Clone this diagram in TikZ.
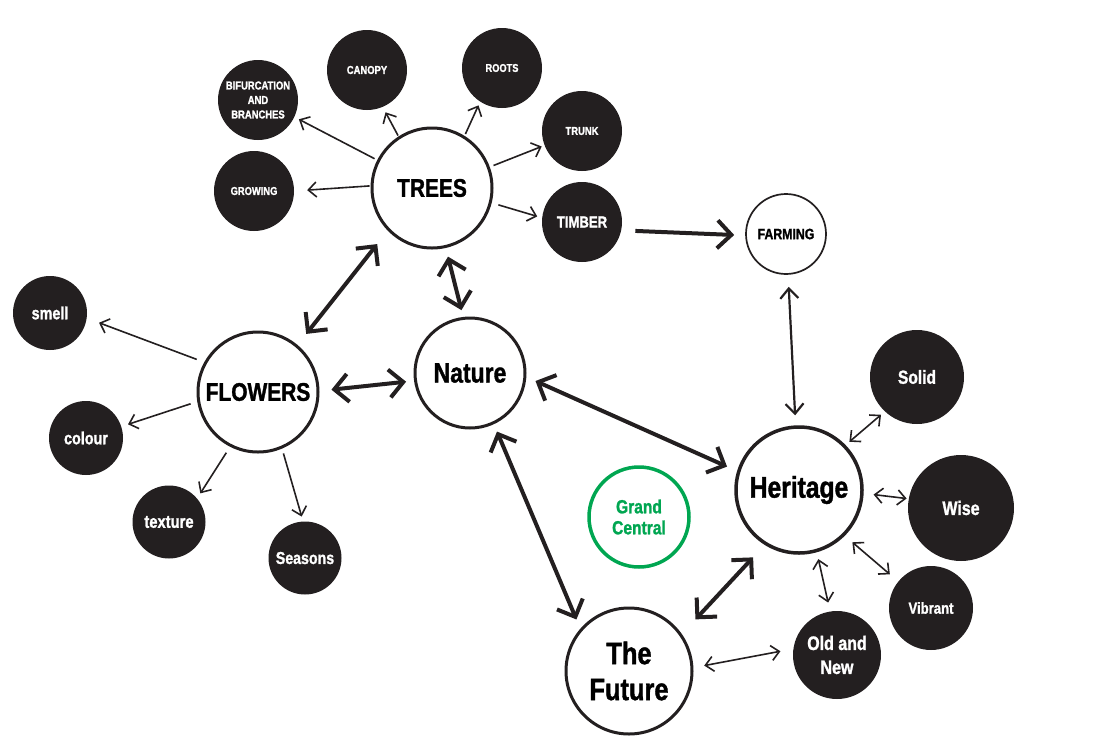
\documentclass[tikz,border=0pt]{standalone}
\usepackage{fontspec}
\setmainfont{Liberation Sans}[FakeStretch=0.82, BoldFeatures={FakeBold=1.3}]
\usetikzlibrary{arrows.meta}
\definecolor{inkcolor}{HTML}{231F20}
\definecolor{centralgreen}{HTML}{00A651}
\newcommand\bubblefont[2]{\fontsize{#1}{#2}\selectfont\bfseries}
\tikzset{
	hub/.style = {circle, draw=inkcolor, line width=3pt, fill=white, text=black, inner sep=0pt, align=center},
	leaf/.style = {circle, fill=inkcolor, text=white, inner sep=0pt, align=center},
	twig/.style = {draw=inkcolor, line width=1.6pt, -{Straight Barb[length=8pt, width=15pt]}},
	twigs/.style = {draw=inkcolor, line width=1.6pt, {Straight Barb[length=8pt, width=15pt]}-{Straight Barb[length=8pt, width=15pt]}},
	bough/.style = {draw=inkcolor, line width=4pt, {Straight Barb[length=14pt, width=28pt]}-{Straight Barb[length=14pt, width=28pt]}}
}

\begin{document}
\begin{tikzpicture}[x=1pt, y=-1pt]
	\useasboundingbox (0,0) rectangle (1096,748);
	% white hubs
	\node[hub, minimum size=120pt, font=\bubblefont{25.5}{28}] (trees) at (432,188) {TREES};
	\node[hub, minimum size=120pt, font=\bubblefont{25.5}{28}] (flowers) at (258,392) {FLOWERS};
	\node[hub, minimum size=110pt, font=\bubblefont{28}{30}] (nature) at (470,373) {Nature};
	\node[hub, minimum size=126pt, line width=3.5pt, font=\bubblefont{30}{32}] (heritage) at (799,490) {Heritage};
	\node[hub, minimum size=126pt, font=\bubblefont{31}{36}] (future) at (629,671) {The\\Future};
	\node[hub, minimum size=80pt, line width=1.7pt, font=\bubblefont{15}{17}] (farming) at (786,234) {FARMING};
	\node[hub, draw=centralgreen, text=centralgreen, minimum size=100pt, line width=3.5pt, font=\bubblefont{19}{21}] (central) at (639,517) {Grand\\Central};
	% dark leaves
	\foreach \nm/\x/\y/\d/\fs/\fl/\txt in {
		bifurcation/258/100/80/11.5/14.5/{BIFURCATION\\AND\\BRANCHES},
		canopy/367/70/80/11.5/13/CANOPY,
		roots/502/68/80/11.3/13/ROOTS,
		trunk/582/131/80/11.5/13/TRUNK,
		growing/254/191/80/11.4/13/GROWING,
		timber/582/222/80/16/18/TIMBER,
		smell/50/313/74/17.5/20/smell,
		colour/86/438/74/17.5/20/colour,
		texture/169/522/73/18/20/texture,
		seasons/305/558/73/17.3/20/Seasons,
		solid/917/377/94/19/21/Solid,
		wise/961/508/106/19.5/22/Wise,
		vibrant/931/608/84/16/18/Vibrant,
		oldnew/837/655/88/19.5/24/{Old and\\New}}
		\node[leaf, minimum size=\d pt, font=\bubblefont{\fs}{\fl}] (\nm) at (\x,\y) {\txt};
	% trees and flowers
	\foreach \leafnm/\a/\b/\s/\e in {bifurcation/153/-25/3/5, canopy/123/-67/1/6, roots/58/237/2/4,
		trunk/20/201/4/3, growing/178/0/1/13, timber/-14/174/7/5}
		\draw[twig, shorten <=\s pt, shorten >=\e pt] (trees.\a) -- (\leafnm.\b);
	\foreach \leafnm/\a/\b/\s/\e in {smell/151/-8/8/13, colour/189/18/7/7, texture/243/40/7/6, seasons/-67/93/5/5}
		\draw[twig, shorten <=\s pt, shorten >=\e pt] (flowers.\a) -- (\leafnm.\b);
	% heritage
	\foreach \leafnm/\a/\b/\s/\e in {solid/44/227/5/5, wise/-3/170/10/2, vibrant/-45/141/10/11, oldnew/-74/99/7/9}
		\draw[twigs, shorten <=\s pt, shorten >=\e pt] (heritage.\a) -- (\leafnm.\b);
	\draw[twigs, shorten <=11pt, shorten >=13pt] (future.3) -- (oldnew.172);
	% main links
	\draw[bough, shorten <=14pt, shorten >=17pt] (flowers.50) -- (trees.224.5);
	\draw[bough, shorten <=9pt, shorten >=7pt] (trees.-77) -- (nature.97);
	\draw[bough, shorten <=12pt, shorten >=8pt] (flowers.1) -- (nature.188);
	\draw[bough, shorten <=10pt, shorten >=11pt] (nature.-4) -- (heritage.163);
	\draw[bough, shorten <=8pt, shorten >=10pt] (nature.-65) -- (future.139);
	\draw[bough, shorten <=17pt, shorten >=20pt] (heritage.238) -- (future.35);
	\draw[draw=inkcolor, line width=4pt, -{Straight Barb[length=14pt, width=28pt]}, shorten <=14pt, shorten >=11pt] (timber.-12) -- (farming.182);
	\draw[draw=inkcolor, line width=2.2pt, {Straight Barb[length=10pt, width=18pt]}-{Straight Barb[length=10pt, width=18pt]}, shorten <=12pt, shorten >=10pt] (farming.-87) -- (heritage.93);
\end{tikzpicture}
\end{document}
